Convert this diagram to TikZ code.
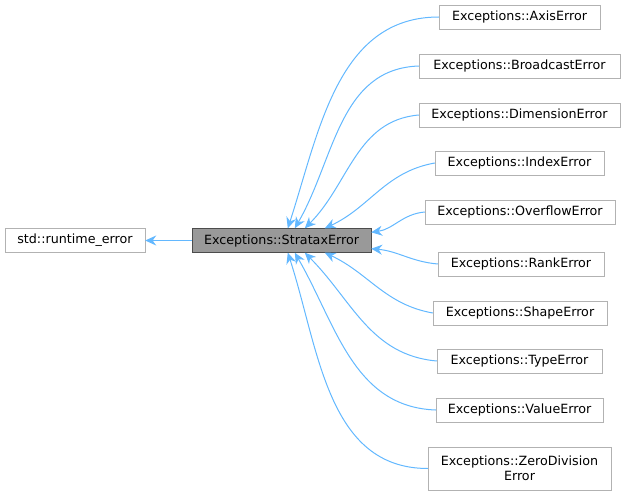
\documentclass[tikz,border=0pt]{standalone}
\usepackage{fontspec}
\setmainfont{DejaVu Sans}
\usetikzlibrary{calc,arrows.meta}
\definecolor{edge}{HTML}{63B8FF}
\begin{document}
\begin{tikzpicture}[x=1pt,y=-1pt,
  box/.style={draw=black!30,fill=white,minimum height=24pt,inner xsep=4pt,font=\fontsize{12.7}{14.5}\selectfont,align=center},
  e/.style={draw=edge,line width=1pt,{Stealth[length=11pt,width=10pt]}-}]
\useasboundingbox (0,0) rectangle (627,495);
\node[box,minimum width=140pt] (r) at (75,240.5) {std::runtime\_error};
\node[box,minimum width=179pt,fill=black!40,draw=black!70] (p) at (281.5,240.5) {Exceptions::StrataxError};
\node[box,minimum width=161pt] (c1) at (519.5,17) {Exceptions::AxisError};
\node[box,minimum width=201pt] (c2) at (519.5,66) {Exceptions::BroadcastError};
\node[box,minimum width=201pt] (c3) at (519.5,115) {Exceptions::DimensionError};
\node[box,minimum width=169pt] (c4) at (519.5,163) {Exceptions::IndexError};
\node[box,minimum width=190pt] (c5) at (520,212) {Exceptions::OverflowError};
\node[box,minimum width=166pt] (c6) at (521,264) {Exceptions::RankError};
\node[box,minimum width=174pt] (c7) at (520,313) {Exceptions::ShapeError};
\node[box,minimum width=165pt] (c8) at (519.5,361) {Exceptions::TypeError};
\node[box,minimum width=167pt] (c9) at (519.5,410) {Exceptions::ValueError};
\node[box,minimum width=183pt,minimum height=43pt] (c10) at (519.5,468.5) {Exceptions::ZeroDivision\\Error};
\draw[e] (r.east) -- (p.west);
\draw[e] ($(p.north west)+(96,0)$) to[out=72,in=180] (c1.west);
\draw[e] ($(p.north west)+(103,0)$) to[out=60,in=182] (c2.west);
\draw[e] ($(p.north west)+(113,0)$) to[out=45,in=185] (c3.west);
\draw[e] ($(p.north west)+(133,0)$) to[out=25,in=190] (c4.west);
\draw[e] ($(p.north east)+(0,4)$) to[out=8,in=185] (c5.west);
\draw[e] ($(p.south east)+(0,-4)$) to[out=-5,in=175] (c6.west);
\draw[e] ($(p.south west)+(133,0)$) to[out=-25,in=170] (c7.west);
\draw[e] ($(p.south west)+(113,0)$) to[out=-45,in=175] (c8.west);
\draw[e] ($(p.south west)+(103,0)$) to[out=-60,in=178] (c9.west);
\draw[e] ($(p.south west)+(96,0)$) to[out=-72,in=180] (c10.west);
\end{tikzpicture}
\end{document}
